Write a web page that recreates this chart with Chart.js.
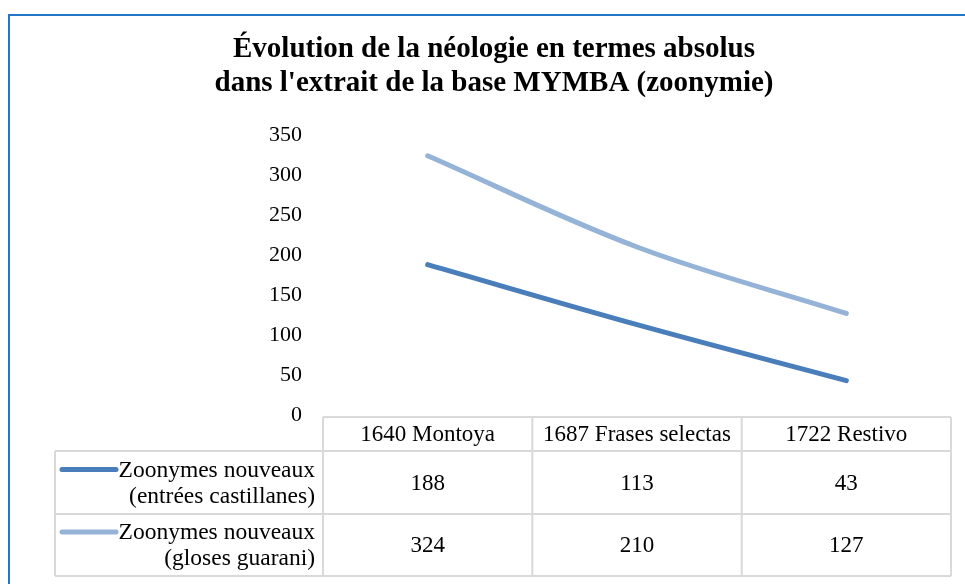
<!DOCTYPE html>
<html><head><meta charset="utf-8">
<script src="https://cdn.jsdelivr.net/npm/chart.js@4.4.1/dist/chart.umd.min.js"></script>
<style>html,body{margin:0;padding:0;background:#fff;}#wrap{position:relative;width:965px;height:584px;}</style>
</head><body><div id="wrap"><canvas id="c" width="965" height="584"></canvas></div>
<script>
const titleLines = ["Évolution de la néologie en termes absolus", "dans l'extrait de la base MYMBA (zoonymie)"];
const categories = ['1640 Montoya', '1687 Frases selectas', '1722 Restivo'];
const seriesLabels = [['Zoonymes nouveaux', '(entrées castillanes)'], ['Zoonymes nouveaux', '(gloses guarani)']];
const castillanes = [188, 113, 43];
const guarani = [324, 210, 127];
const yTicks = [0, 50, 100, 150, 200, 250, 300, 350];
const seriesColors = ['#4A7EBB', '#95B3D7'];

const FONT = '"Liberation Serif", "Times New Roman", serif';

const tablePlugin = {
  id: 'dataTable',
  beforeDraw(chart) {
    const ctx = chart.ctx;
    ctx.save();
    ctx.strokeStyle = '#2277c9';
    ctx.lineWidth = 2;
    ctx.beginPath();
    ctx.moveTo(9, 600);
    ctx.lineTo(9, 15);
    ctx.lineTo(980, 15);
    ctx.stroke();
    ctx.restore();
  },
  afterDraw(chart) {
    const ctx = chart.ctx, xs = chart.scales.x, area = chart.chartArea;
    const centers = categories.map((_, i) => xs.getPixelForValue(i));
    const half = (centers[1] - centers[0]) / 2;
    const left = 55, cl = area.left, cr = area.right;
    const rows = [area.bottom + 2, 451, 514, 576];
    ctx.save();
    ctx.strokeStyle = '#D9D9D9';
    ctx.lineWidth = 2;
    ctx.beginPath();
    ctx.moveTo(cl, rows[0]); ctx.lineTo(cr, rows[0]);
    for (let r = 1; r < rows.length; r++) { ctx.moveTo(left, rows[r]); ctx.lineTo(cr, rows[r]); }
    ctx.moveTo(left, rows[1]); ctx.lineTo(left, rows[3]);
    ctx.moveTo(cl, rows[0]); ctx.lineTo(cl, rows[3]);
    for (let i = 0; i < centers.length; i++) {
      const xr = centers[i] + half;
      ctx.moveTo(xr, rows[0]); ctx.lineTo(xr, rows[3]);
    }
    ctx.stroke();

    ctx.fillStyle = '#000';
    ctx.font = '23px ' + FONT;
    ctx.textAlign = 'center';
    ctx.textBaseline = 'middle';
    categories.forEach((c, i) => ctx.fillText(c, centers[i], (rows[0] + rows[1]) / 2 + 1));
    const data = [castillanes, guarani];
    data.forEach((arr, r) => {
      const yc = (rows[r + 1] + rows[r + 2]) / 2;
      ctx.font = '23px ' + FONT;
      ctx.textAlign = 'center';
      arr.forEach((v, i) => ctx.fillText(String(v), centers[i], yc + 1));
      const y1 = yc - 13, y2 = yc + 14;
      ctx.strokeStyle = seriesColors[r];
      ctx.lineWidth = 5;
      ctx.lineCap = 'round';
      ctx.beginPath();
      ctx.moveTo(62, y1); ctx.lineTo(116, y1);
      ctx.stroke();
      ctx.font = '23.5px ' + FONT;
      ctx.textAlign = 'right';
      ctx.fillText(seriesLabels[r][0], 315, y1 + 1);
      ctx.fillText(seriesLabels[r][1], 315, y2);
    });
    ctx.restore();
  }
};

new Chart(document.getElementById('c'), {
  type: 'line',
  data: {
    labels: categories,
    datasets: [
      { label: seriesLabels[0].join(' '), data: castillanes, borderColor: seriesColors[0], backgroundColor: seriesColors[0], borderWidth: 5, borderCapStyle: 'round', pointRadius: 0, tension: 0.35, fill: false },
      { label: seriesLabels[1].join(' '), data: guarani, borderColor: seriesColors[1], backgroundColor: seriesColors[1], borderWidth: 5, borderCapStyle: 'round', pointRadius: 0, tension: 0.35, fill: false }
    ]
  },
  options: {
    responsive: false,
    animation: false,
    devicePixelRatio: 1,
    layout: { padding: { left: 37, right: 14, top: 15, bottom: 169 } },
    plugins: {
      legend: { display: false },
      tooltip: { enabled: false },
      title: {
        display: true,
        text: titleLines,
        color: '#000',
        font: { family: FONT, size: 29, weight: 'bold', lineHeight: 34 / 29 },
        padding: { top: 18, bottom: 34 }
      }
    },
    scales: {
      x: { display: false, offset: true },
      y: {
        min: 0, max: 350,
        afterBuildTicks(axis) { axis.ticks = yTicks.map(v => ({ value: v })); },
        afterFit(axis) { axis.width = 323 - 37; },
        border: { display: false },
        grid: { display: false, drawTicks: false },
        ticks: { color: '#000', padding: 21, font: { family: FONT, size: 22 } }
      }
    }
  },
  plugins: [tablePlugin]
});
</script></body></html>
